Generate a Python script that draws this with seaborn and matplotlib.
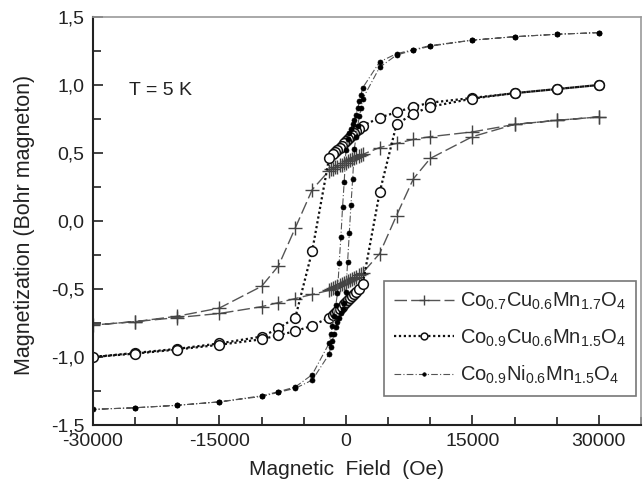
"""
Hysteresis loops at T = 5 K for three spinel manganites
"""

import pandas as pd
import matplotlib
matplotlib.use("Agg")
import matplotlib.pyplot as plt
import seaborn as sns
from matplotlib.ticker import MultipleLocator, FuncFormatter


# ======================================================
# Data (field in Oe, magnetization in Bohr magneton)
# ======================================================

# Co0.7Cu0.6Mn1.7O4  (crosses)
cu17_h_down = [30000, 25000, 20000, 15000, 10000, 8000, 6000, 4000,
               2000, 1750, 1500, 1250, 1000, 750, 500, 250, 0,
               -250, -500, -750, -1000, -1250, -1500, -1750, -2000,
               -4000, -6000, -8000, -10000, -15000, -20000, -25000, -30000]
cu17_m_down = [0.765, 0.74, 0.71, 0.655, 0.62, 0.60, 0.57, 0.54,
               0.49, 0.485, 0.475, 0.47, 0.46, 0.455, 0.445, 0.44, 0.43,
               0.425, 0.415, 0.41, 0.40, 0.395, 0.385, 0.38, 0.37,
               0.23, -0.05, -0.33, -0.48, -0.64, -0.70, -0.74, -0.765]
cu17_h_up = [-25000, -20000, -15000, -10000, -8000, -6000, -4000,
             -2000, -1750, -1500, -1250, -1000, -750, -500, -250, 0,
             250, 500, 750, 1000, 1250, 1500, 1750, 2000,
             4000, 6000, 8000, 10000, 15000, 20000, 25000, 30000]
cu17_m_up = [-0.74, -0.71, -0.68, -0.63, -0.60, -0.57, -0.54,
             -0.51, -0.50, -0.495, -0.485, -0.48, -0.47, -0.465, -0.455, -0.45,
             -0.44, -0.435, -0.425, -0.42, -0.41, -0.40, -0.39, -0.38,
             -0.24, 0.04, 0.31, 0.46, 0.62, 0.71, 0.74, 0.765]

# Co0.9Cu0.6Mn1.5O4  (open circles)
cu15_h_down = [30000, 25000, 20000, 15000, 10000, 8000, 6000, 4000,
               2000, 1500, 1250, 1000, 750, 500, 250, 0,
               -250, -500, -750, -1000, -1250, -1500, -2000,
               -4000, -6000, -8000, -10000, -15000, -20000, -25000, -30000]
cu15_m_down = [1.00, 0.97, 0.94, 0.905, 0.87, 0.84, 0.80, 0.76,
               0.70, 0.68, 0.665, 0.65, 0.635, 0.62, 0.60, 0.585,
               0.57, 0.555, 0.54, 0.525, 0.51, 0.49, 0.46,
               -0.22, -0.71, -0.79, -0.85, -0.90, -0.94, -0.97, -1.00]
cu15_h_up = [-25000, -20000, -15000, -10000, -8000, -6000, -4000,
             -2000, -1500, -1250, -1000, -750, -500, -250, 0,
             250, 500, 750, 1000, 1250, 1500, 2000,
             4000, 6000, 8000, 10000, 15000, 20000, 25000, 30000]
cu15_m_up = [-0.975, -0.945, -0.91, -0.87, -0.84, -0.81, -0.77,
             -0.71, -0.69, -0.675, -0.66, -0.645, -0.63, -0.61, -0.595,
             -0.58, -0.565, -0.55, -0.535, -0.52, -0.50, -0.46,
             0.21, 0.71, 0.79, 0.84, 0.90, 0.94, 0.97, 1.00]

# Co0.9Ni0.6Mn1.5O4  (filled dots)
ni15_h_down = [30000, 25000, 20000, 15000, 10000, 8000, 6000, 4000,
               2000, 1800, 1600, 1400, 1200, 1000, 800, 600, 400, 200, 0,
               -200, -400, -600, -800, -1000, -1200, -1400, -1600, -1800, -2000,
               -4000, -6000, -8000, -10000, -15000, -20000, -25000, -30000]
ni15_m_down = [1.385, 1.373, 1.355, 1.33, 1.29, 1.26, 1.23, 1.17,
               0.98, 0.93, 0.88, 0.83, 0.78, 0.74, 0.71, 0.68, 0.65, 0.60, 0.52,
               0.29, 0.10, -0.12, -0.31, -0.53, -0.62, -0.70, -0.77, -0.83, -0.90,
               -1.13, -1.22, -1.255, -1.285, -1.33, -1.355, -1.373, -1.385]
ni15_h_up = [-25000, -20000, -15000, -10000, -8000, -6000, -4000,
             -2000, -1800, -1600, -1400, -1200, -1000, -800, -600, -400, -200, 0,
             200, 400, 600, 800, 1000, 1200, 1400, 1600, 1800, 2000,
             4000, 6000, 8000, 10000, 15000, 20000, 25000, 30000]
ni15_m_up = [-1.373, -1.355, -1.33, -1.29, -1.26, -1.23, -1.17,
             -0.98, -0.93, -0.88, -0.83, -0.78, -0.74, -0.71, -0.68, -0.65, -0.60, -0.52,
             -0.30, -0.09, 0.12, 0.31, 0.53, 0.62, 0.70, 0.77, 0.83, 0.90,
             1.13, 1.22, 1.255, 1.285, 1.33, 1.355, 1.373, 1.385]

labels = [r"Co$_{0.7}$Cu$_{0.6}$Mn$_{1.7}$O$_4$",
          r"Co$_{0.9}$Cu$_{0.6}$Mn$_{1.5}$O$_4$",
          r"Co$_{0.9}$Ni$_{0.6}$Mn$_{1.5}$O$_4$"]


# ======================================================
# Utility
# ======================================================

def loop_frame(h_down, m_down, h_up, m_up):
    # one continuous loop: down branch then up branch
    return pd.DataFrame({"H": h_down + h_up, "M": m_down + m_up})


def comma_fmt(v, pos):
    return f"{v:.1f}".replace(".", ",")


# ======================================================
# Plot
# ======================================================

sns.set_theme(style="ticks")
plt.rcParams["font.family"] = ["Liberation Sans", "DejaVu Sans"]
plt.rcParams["mathtext.default"] = "regular"

fig = plt.figure(figsize=(6.43, 4.91), dpi=100)
ax = fig.add_axes([0.1446, 0.1344, 0.8523, 0.831])

loops = [
    loop_frame(cu17_h_down, cu17_m_down, cu17_h_up, cu17_m_up),
    loop_frame(cu15_h_down, cu15_m_down, cu15_h_up, cu15_m_up),
    loop_frame(ni15_h_down, ni15_m_down, ni15_h_up, ni15_m_up),
]

styles = [
    dict(color="#555555", linestyle=(0, (9, 3)), linewidth=1.0,
         marker="+", markersize=9.5, markeredgewidth=1.0,
         markeredgecolor="#444444"),
    dict(color="#111111", linestyle=(0, (1, 1.2)), linewidth=1.6,
         marker="o", markersize=7, markeredgewidth=1.1,
         markeredgecolor="#111111", markerfacecolor="white"),
    dict(color="#555555", linestyle=(0, (6, 2, 1, 2)), linewidth=0.8,
         marker="o", markersize=3.6, markeredgewidth=0.5,
         markeredgecolor="black", markerfacecolor="black"),
]

for df, st, lab in zip(loops, styles, labels):
    sns.lineplot(data=df, x="H", y="M", sort=False, estimator=None,
                 ax=ax, label=lab, **st)

ax.set_xlim(-30000, 35000)
ax.set_ylim(-1.5, 1.5)

ax.xaxis.set_major_locator(MultipleLocator(15000))
ax.xaxis.set_minor_locator(MultipleLocator(5000))
ax.yaxis.set_major_locator(MultipleLocator(0.5))
ax.yaxis.set_minor_locator(MultipleLocator(0.25))
ax.yaxis.set_major_formatter(FuncFormatter(comma_fmt))
ax.xaxis.set_major_formatter(FuncFormatter(lambda v, p: f"{int(v)}"))

ax.tick_params(which="major", direction="in", length=7, width=1.2,
               labelsize=14, pad=6, colors="#222222")
ax.tick_params(which="minor", direction="in", length=6, width=1.2,
               colors="#222222")

for side in ["left", "bottom"]:
    ax.spines[side].set_color("#222222")
    ax.spines[side].set_linewidth(1.5)
for side in ["top", "right"]:
    ax.spines[side].set_color("#999999")
    ax.spines[side].set_linewidth(1.2)

ax.set_xlabel("Magnetic  Field  (Oe)", fontsize=15, color="#222222")
ax.set_ylabel("Magnetization (Bohr magneton)", fontsize=15.5, color="#222222")
ax.xaxis.set_label_coords(0.462, -0.085)
ax.yaxis.set_label_coords(-0.105, 0.49)

ax.text(-25700, 0.93, "T = 5 K", fontsize=14, color="#222222",
        ha="left", va="baseline")

leg = ax.legend(loc="lower right", bbox_to_anchor=(0.991, 0.071),
                borderaxespad=0, fontsize=14.5, frameon=True,
                fancybox=False, framealpha=1, edgecolor="#777777",
                handlelength=3.0, handletextpad=0.3, labelspacing=0.75,
                markerscale=0.7, borderpad=0.5)
leg.get_frame().set_linewidth(1.2)

plt.savefig("out.png", dpi=100)
